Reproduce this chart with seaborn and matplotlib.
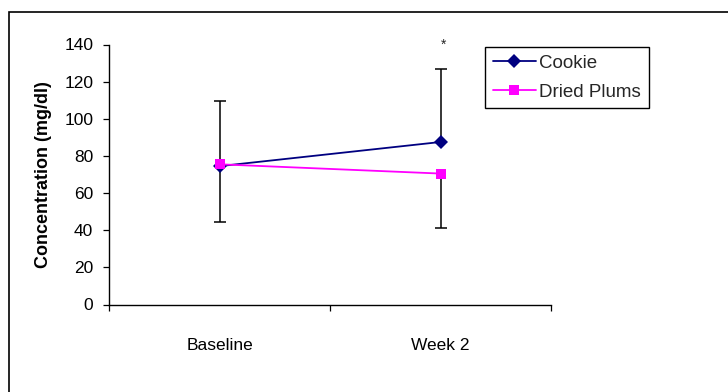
import matplotlib
matplotlib.use("Agg")
import matplotlib.pyplot as plt
import matplotlib.patches as mpatches
import pandas as pd
import seaborn as sns

# datos
tiempos = ["Baseline", "Week 2"]
grupos = ["Cookie", "Dried Plums"]
cookie = [74.5, 87.5]
ciruelas = [75.5, 70.5]
cookie_sd = [35.0, 39.5]     # barra hacia arriba
ciruelas_sd = [31.0, 29.5]   # barra hacia abajo
y_ticks = [0, 20, 40, 60, 80, 100, 120, 140]

sns.set_theme(style="white")
plt.rcParams["font.family"] = ["Liberation Sans", "DejaVu Sans"]

df = pd.DataFrame({
    "tiempo": tiempos * 2,
    "valor": cookie + ciruelas,
    "grupo": [grupos[0]] * 2 + [grupos[1]] * 2,
})

fig = plt.figure(figsize=(7.28, 3.92), dpi=100)
ax = fig.add_axes([109 / 728, 1 - 304.5 / 392, 442 / 728, 260 / 392])

colores = {"Cookie": "#000080", "Dried Plums": "#FF00FF"}

# Barras de error (Cookie hacia arriba, ciruelas hacia abajo)
for vals, err, arriba in [(cookie, cookie_sd, True), (ciruelas, ciruelas_sd, False)]:
    cero = [0] * len(err)
    yerr = [cero, err] if arriba else [err, cero]
    eb = ax.errorbar(tiempos, vals, yerr=yerr, fmt="none", ecolor="black",
                     elinewidth=1.1, capsize=4.5, capthick=1.1, zorder=1)
    for cap in eb[1]:
        if list(cap.get_ydata()) == list(vals):
            cap.set_visible(False)

sns.lineplot(data=df, x="tiempo", y="valor", hue="grupo", style="grupo",
             palette=colores, markers={"Cookie": "D", "Dried Plums": "s"},
             dashes=False, linewidth=1.3, markersize=7, markeredgewidth=0,
             ax=ax, zorder=3)

# asterisco sobre Week 2
ax.annotate("*", xy=(1, cookie[1] + cookie_sd[1]), xytext=(2, 12),
            textcoords="offset points", ha="center", va="bottom", fontsize=10)

ax.set_ylim(0, 140)
ax.set_xlim(-0.5, 1.5)
ax.set_yticks(y_ticks)
ax.set_xticks([0, 1], labels=tiempos)
ax.set_xticks([-0.5, 0.5, 1.5], minor=True)
ax.tick_params(axis="x", which="major", length=0, pad=24, labelsize=12.5, colors="black")
ax.tick_params(axis="x", which="minor", length=4, width=0.9, color="black", bottom=True)
ax.tick_params(axis="y", length=4.3, width=0.9, pad=7, labelsize=12.5, left=True, colors="black")

ax.set_xlabel("")
ax.set_ylabel("Concentration (mg/dl)", fontsize=13, fontweight="bold", color="black")
ax.yaxis.set_label_coords(-0.128, 0.5)

sns.despine(ax=ax)
for s in ["left", "bottom"]:
    ax.spines[s].set_color("black")
    ax.spines[s].set_linewidth(1.0)

# leyenda
viejo = ax.get_legend()
handles = viejo.legend_handles
labels = [t.get_text() for t in viejo.get_texts()]
viejo.remove()
leg = ax.legend(handles, labels, loc="upper left", bbox_to_anchor=(485 / 728, 1 - 47 / 392),
                bbox_transform=fig.transFigure, borderaxespad=0, fontsize=13.5,
                frameon=True, fancybox=False, framealpha=1, edgecolor="black",
                handlelength=2.3, handletextpad=0.2, labelspacing=0.65, borderpad=0.4)
leg.get_frame().set_linewidth(1.0)

# marco exterior del grafico
fig.patches.append(mpatches.Rectangle((9 / 728, -0.2), 1.2, 1.2 - 12 / 392,
                                      transform=fig.transFigure, fill=False,
                                      edgecolor="black", linewidth=1.2))

fig.savefig("out.png", dpi=100)
